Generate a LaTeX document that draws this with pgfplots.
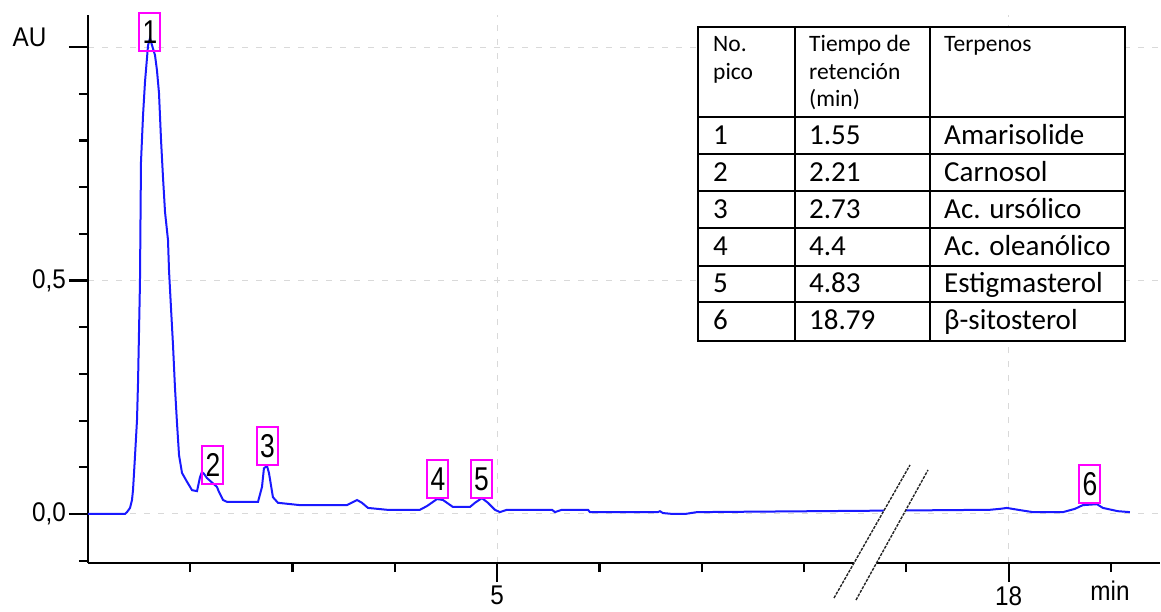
\documentclass[border=0pt]{standalone}
\usepackage{fontspec}
\usepackage{pgfplots}
\pgfplotsset{compat=1.18}
\newfontfamily\axfont[FakeStretch=0.9]{Liberation Sans}
\newfontfamily\pkfont[FakeStretch=0.8]{Liberation Sans}
\newfontfamily\tabfont{Carlito}
\definecolor{curveblue}{RGB}{25,25,255}
\definecolor{pkmag}{RGB}{255,0,255}

\pgfplotstableread{
x y
1.000 0.000
1.362 0.000
1.381 0.004
1.411 0.013
1.430 0.030
1.440 0.051
1.459 0.122
1.479 0.201
1.489 0.281
1.508 0.495
1.518 0.754
1.538 0.854
1.557 0.925
1.587 1.004
1.606 1.019
1.626 1.004
1.655 0.983
1.674 0.951
1.694 0.902
1.714 0.801
1.733 0.722
1.753 0.647
1.782 0.587
1.792 0.522
1.811 0.443
1.831 0.362
1.850 0.272
1.870 0.195
1.890 0.126
1.919 0.088
1.968 0.069
2.017 0.051
2.066 0.049
2.095 0.079
2.114 0.090
2.134 0.086
2.163 0.077
2.261 0.058
2.281 0.047
2.320 0.030
2.359 0.026
2.662 0.026
2.701 0.058
2.720 0.098
2.750 0.103
2.769 0.088
2.808 0.036
2.857 0.024
3.072 0.019
3.268 0.019
3.532 0.019
3.630 0.030
3.678 0.024
3.737 0.013
3.923 0.009
4.245 0.009
4.314 0.017
4.412 0.032
4.470 0.030
4.568 0.015
4.734 0.015
4.783 0.024
4.851 0.034
4.910 0.024
4.978 0.009
5.027 0.004
5.096 0.009
5.536 0.009
5.565 0.004
5.633 0.009
5.888 0.009
5.907 0.004
6.572 0.004
6.591 0.006
6.621 0.002
6.719 0.000
6.836 0.000
6.953 0.004
9.817 0.009
9.915 0.011
9.983 0.013
10.091 0.009
10.237 0.004
10.531 0.004
10.648 0.011
10.726 0.019
10.863 0.021
10.922 0.013
11.068 0.006
11.186 0.004
}\chrom

\begin{document}
\begin{tikzpicture}
\begin{axis}[
  at={(88pt,48pt)}, anchor=south west,
  scale only axis, width=1072pt, height=548pt,
  xmin=1, xmax=11.48, ymin=-0.105, ymax=1.069,
  axis x line=bottom, axis y line=left,
  x axis line style={-, line width=2.2pt, black},
  y axis line style={-, line width=2.2pt, black},
  xtick={5,10}, xticklabels={5,18},
  minor xtick={2,3,4,6,7,8,9,11},
  ytick={0,0.5,1}, yticklabels={{0,0},{0,5},{}},
  minor ytick={-0.1,0.1,0.2,0.3,0.4,0.6,0.7,0.8,0.9},
  tick align=outside,
  major tick length=19pt, minor tick length=9pt,
  major tick style={black, line width=2.2pt},
  minor tick style={black, line width=2.2pt},
  tick label style={font=\axfont\fontsize{27}{30}\selectfont, inner sep=3pt},
  xticklabel style={yshift=-1pt},
  grid=major,
  major grid style={gray!30, line width=1pt, dash pattern=on 6pt off 8pt},
  clip=false,
]
\addplot[curveblue, line width=2pt] table {\chrom};
\begin{scope}[every node/.style={draw=pkmag, line width=2pt, minimum width=21pt, minimum height=38pt, inner sep=0pt, anchor=south, text=black, font=\pkfont\fontsize{33}{36}\selectfont}]
\node at (axis cs:1.606,0.989) {1};
\node at (axis cs:2.222,0.062) {2};
\node at (axis cs:2.755,0.103) {3};
\node at (axis cs:4.421,0.032) {4};
\node at (axis cs:4.846,0.032) {5};
\node at (axis cs:10.795,0.021) {6};
\end{scope}
\end{axis}
% axis annotations
\node[font=\axfont\fontsize{27}{30}\selectfont, inner sep=0pt] at (29.5pt,573.5pt) {AU};
\node[font=\axfont\fontsize{27}{30}\selectfont, inner sep=0pt, anchor=base] at (1110pt,11pt) {min};
% axis break
\fill[white] (834pt,13pt) -- (910pt,146pt) -- (928pt,141pt) -- (856pt,11pt) -- cycle;
\draw[black!85, line width=1.4pt, dash pattern=on 3pt off 1.2pt] (834pt,13pt) -- (910pt,146pt);
\draw[black!85, line width=1.4pt, dash pattern=on 3pt off 1.2pt] (856pt,11pt) -- (928pt,141pt);
% table
\fill[white] (698pt,270pt) rectangle (1125pt,584pt);
\draw[line width=2pt] (698pt,270pt) rectangle (1125pt,584pt);
\draw[line width=2pt] (795pt,270pt) -- (795pt,584pt);
\draw[line width=2pt] (930pt,270pt) -- (930pt,584pt);
\foreach \yy in {494,457,420,383,345,309} {\draw[line width=2pt] (698pt,\yy pt) -- (1125pt,\yy pt);}
\begin{scope}[every node/.style={anchor=base west, inner sep=0pt, font=\tabfont\fontsize{23.5}{27}\selectfont}]
\node at (713pt,559pt) {No.};
\node at (713pt,531pt) {pico};
\node at (809pt,559pt) {Tiempo de};
\node at (809pt,531pt) {retención};
\node at (809pt,504pt) {(min)};
\node at (944pt,559pt) {Terpenos};
\end{scope}
\begin{scope}[every node/.style={anchor=base west, inner sep=0pt, font=\tabfont\fontsize{29}{32}\selectfont}]
\node at (713pt,466pt) {1}; \node at (809pt,466pt) {1.55};  \node at (944pt,466pt) {Amarisolide};
\node at (713pt,429pt) {2}; \node at (809pt,429pt) {2.21};  \node at (944pt,429pt) {Carnosol};
\node at (713pt,392pt) {3}; \node at (809pt,392pt) {2.73};  \node at (944pt,392pt) {Ac. ursólico};
\node at (713pt,355pt) {4}; \node at (809pt,355pt) {4.4};   \node at (944pt,355pt) {Ac. oleanólico};
\node at (713pt,318pt) {5}; \node at (809pt,318pt) {4.83};  \node at (944pt,318pt) {Estigmasterol};
\node at (713pt,281pt) {6}; \node at (809pt,281pt) {18.79}; \node at (944pt,281pt) {β-sitosterol};
\end{scope}
\pgfresetboundingbox
\path[use as bounding box] (0pt,0pt) rectangle (1161pt,611pt);
\end{tikzpicture}
\end{document}
